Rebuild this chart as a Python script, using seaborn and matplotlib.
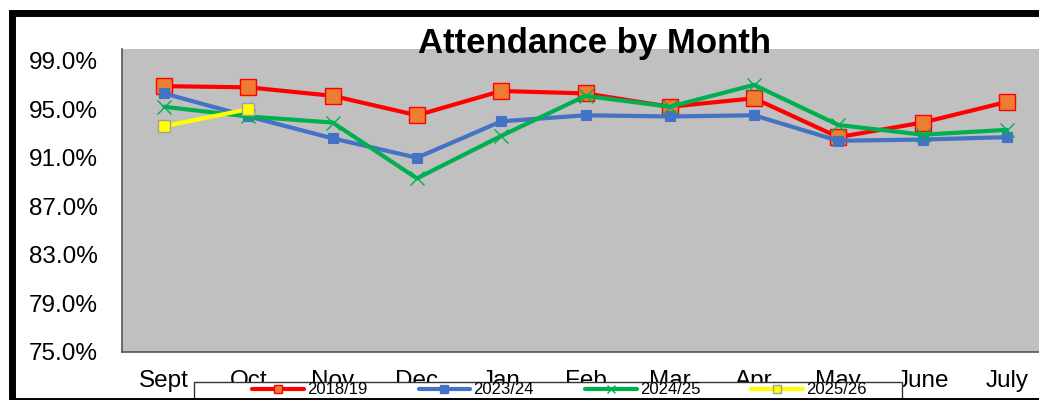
import matplotlib
matplotlib.use("Agg")
import matplotlib.pyplot as plt
from matplotlib.lines import Line2D
from matplotlib.patches import Rectangle
import numpy as np
import pandas as pd
import seaborn as sns

# data (attendance %)
months = ["Sept", "Oct", "Nov", "Dec", "Jan", "Feb", "Mar", "Apr", "May", "June", "July"]
att_1819 = [96.9, 96.8, 96.1, 94.5, 96.5, 96.3, 95.2, 95.9, 92.7, 93.9, 95.6]
att_2324 = [96.3, 94.4, 92.6, 91.0, 94.0, 94.5, 94.4, 94.5, 92.4, 92.5, 92.7]
att_2425 = [95.2, 94.4, 93.9, 89.3, 92.8, 96.1, 95.2, 97.0, 93.7, 92.9, 93.3]
att_2526 = [93.6, 95.0]
series_names = ["2018/19", "2023/24", "2024/25", "2025/26"]
y_ticks = [75, 79, 83, 87, 91, 95, 99]

frames = []
for name, vals in zip(series_names, [att_1819, att_2324, att_2425, att_2526]):
    frames.append(pd.DataFrame({"pos": np.arange(len(vals)), "value": vals, "year": name}))
df = pd.concat(frames, ignore_index=True)

# styles: line colour, marker, marker face, marker edge, marker size, edge width
styles = {
    "2018/19": dict(color="#FF0000", marker="s", mfc="#ED7D31", mec="#FF0000", ms=11, mew=1.0),
    "2023/24": dict(color="#4472C4", marker="s", mfc="#4472C4", mec="#4472C4", ms=7.5, mew=0.8),
    "2024/25": dict(color="#00B050", marker="x", mfc="#00B050", mec="#00B050", ms=10, mew=1.0),
    "2025/26": dict(color="#FFFF00", marker="s", mfc="#FFFF00", mec="#A0A0A0", ms=8.5, mew=1.0),
}

sns.set_style("white")
plt.rcParams["font.family"] = ["Liberation Sans", "DejaVu Sans"]
plt.rcParams["text.color"] = "black"
plt.rcParams["xtick.color"] = "black"
plt.rcParams["ytick.color"] = "black"

W, H = 1039, 400
fig = plt.figure(figsize=(W / 100, H / 100), dpi=100)
fig.patch.set_facecolor("white")
ax = fig.add_axes([122 / W, 48 / H, 927 / W, 303.5 / H])
ax.set_facecolor("#C0C0C0")

for name in series_names:
    st = styles[name]
    sns.lineplot(data=df[df["year"] == name], x="pos", y="value", ax=ax,
                 color=st["color"], linewidth=3, marker=st["marker"],
                 markerfacecolor=st["mfc"], markeredgecolor=st["mec"],
                 markersize=st["ms"], markeredgewidth=st["mew"], legend=False)

ax.set_xlim(-0.5, 10.5)
ax.set_ylim(75, 100)
ax.set_xticks(range(len(months)))
ax.set_xticklabels(months)
ax.set_xticks(np.arange(-0.5, 11, 1), minor=True)
ax.set_yticks(y_ticks)
ax.set_yticklabels([f"{v:.1f}%" for v in y_ticks])
ax.tick_params(axis="x", which="major", length=0, pad=13, labelsize=17.5, labelcolor="black")
ax.tick_params(axis="x", which="minor", length=5.5, width=1, color="#404040", direction="out")
ax.tick_params(axis="y", length=5.5, width=1, color="#404040", pad=12, labelsize=17.5,
               labelcolor="black", direction="out")
ax.set_xlabel("")
ax.set_ylabel("")
for side in ["top", "right"]:
    ax.spines[side].set_visible(False)
for side in ["left", "bottom"]:
    ax.spines[side].set_color("#555555")
    ax.spines[side].set_linewidth(1.2)

# title sits over the plot area
fig.text(595 / W, (H - 53) / H, "Attendance by Month", ha="center", va="baseline",
         fontsize=25, fontweight="bold", color="black", zorder=6)

# legend box, cut off at the bottom like the reference
fig.patches.append(Rectangle((194 / W, -10 / H), 708 / W, (H - 382 + 10) / H,
                             transform=fig.transFigure, facecolor="white",
                             edgecolor="#333333", linewidth=1, zorder=4))

handles = []
for name in series_names:
    st = styles[name]
    handles.append(Line2D([], [], color=st["color"], linewidth=3, marker=st["marker"],
                          markerfacecolor=st["mfc"], markeredgecolor=st["mec"],
                          markersize=6, markeredgewidth=1))
leg = fig.legend(handles, series_names, loc="center left", bbox_to_anchor=(244 / W, (H - 390) / H),
                 ncol=4, frameon=False, fontsize=12, handlelength=3.1, handletextpad=0.2,
                 columnspacing=3.05, borderpad=0, numpoints=1)
for t in leg.get_texts():
    t.set_color("black")
leg.set_zorder(5)

# thick black frame around the chart object, running off the right edge
fig.patches.append(Rectangle((11.5 / W, -0.5 / H), 1060 / W, (H - 12.5 + 0.5) / H,
                             transform=fig.transFigure, facecolor="none",
                             edgecolor="black", linewidth=5, zorder=7))

fig.savefig("out.png", dpi=100)
